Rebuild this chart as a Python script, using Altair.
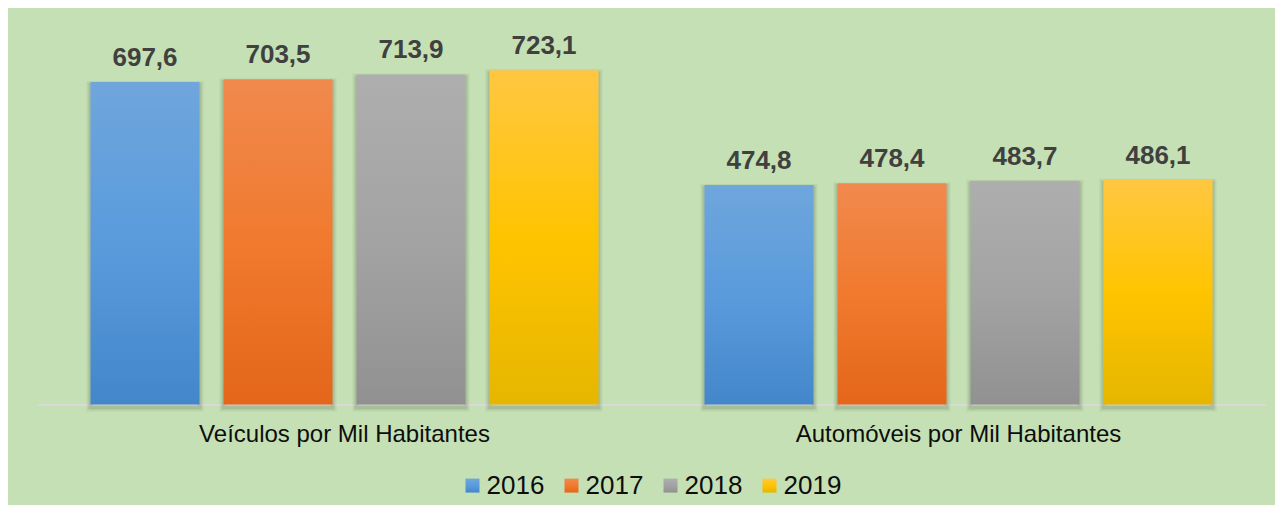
import altair as alt
import pandas as pd

categories = ["Veículos por Mil Habitantes", "Automóveis por Mil Habitantes"]
years = ["2016", "2017", "2018", "2019"]
veiculos = [697.6, 703.5, 713.9, 723.1]
automoveis = [474.8, 478.4, 483.7, 486.1]

rows = []
for cat, vals in zip(categories, [veiculos, automoveis]):
    for y, v in zip(years, vals):
        rows.append({"cat": cat, "year": y, "value": v})
df = pd.DataFrame(rows)

stops = [
    ("#6FA6DC", "#5A9BDC", "#4387CA"),
    ("#F1894E", "#F07A2E", "#E4661A"),
    ("#AEAEAE", "#A3A3A3", "#919191"),
    ("#FFC742", "#FFC400", "#E6B600"),
]


def grad(c):
    return alt.ExprRef(
        expr="{gradient: 'linear', x1: 0, y1: 0, x2: 0, y2: 1, stops: ["
        f"{{offset: 0, color: '{c[0]}'}}, {{offset: 0.5, color: '{c[1]}'}}, {{offset: 1, color: '{c[2]}'}}]}}"
    )


FONT = "Liberation Sans"

x_enc = alt.X(
    "cat:N",
    sort=categories,
    title=None,
    scale=alt.Scale(paddingInner=0.1336, paddingOuter=0.0668),
    axis=alt.Axis(
        labelAngle=0,
        labelFont=FONT,
        labelFontSize=24,
        labelColor="#0D0D0D",
        labelPadding=30,
        labelBaseline="middle",
        labelLimit=0,
        ticks=False,
        domainColor="#D9D9D9",
        domainWidth=2,
        grid=False,
    ),
)
xo_enc = alt.XOffset(
    "year:N", sort=years, scale=alt.Scale(paddingInner=0.18, paddingOuter=0.09)
)
y_enc = alt.Y("value:Q", scale=alt.Scale(domain=[0, 760], nice=False), axis=None)

shadow1 = alt.Chart(df).mark_bar(
    fillOpacity=0, stroke="#000000", strokeWidth=8, strokeOpacity=0.05, yOffset=3
).encode(x=x_enc, xOffset=xo_enc, y=y_enc)
shadow2 = alt.Chart(df).mark_bar(
    fillOpacity=0, stroke="#000000", strokeWidth=4, strokeOpacity=0.1, yOffset=3
).encode(x=x_enc, xOffset=xo_enc, y=y_enc)

bars = alt.Chart(df).mark_bar().encode(
    x=x_enc,
    xOffset=xo_enc,
    y=y_enc,
    color=alt.Color(
        "year:N",
        sort=years,
        scale=alt.Scale(domain=years, range=[grad(s) for s in stops]),
        legend=alt.Legend(
            title=None,
            orient="none",
            direction="horizontal",
            legendX=422,
            legendY=419.5,
            symbolType="square",
            symbolSize=196,
            symbolStrokeWidth=0,
            labelFont=FONT,
            labelFontSize=26,
            labelColor="#0D0D0D",
            labelOffset=1,
            columnPadding=14,
        ),
    ),
)

labels = (
    alt.Chart(df)
    .transform_calculate(label="replace(format(datum.value, '.1f'), '.', ',')")
    .mark_text(
        font=FONT,
        fontSize=26,
        fontWeight="bold",
        color="#404040",
        baseline="alphabetic",
        dy=-16,
    )
    .encode(x=x_enc, xOffset=xo_enc, y=y_enc, text="label:N")
)

chart = (
    alt.layer(shadow1, shadow2, bars, labels)
    .properties(
        width=1228,
        height=351.4,
        background="#C5E0B4",
        autosize=alt.AutoSizeParams(type="none"),
        padding={"left": 29.5, "top": 45.1, "right": 9.5, "bottom": 100.5},
    )
    .configure_view(stroke=None)
)

chart.save("out.html", embed_options={"renderer": "svg", "actions": False})
